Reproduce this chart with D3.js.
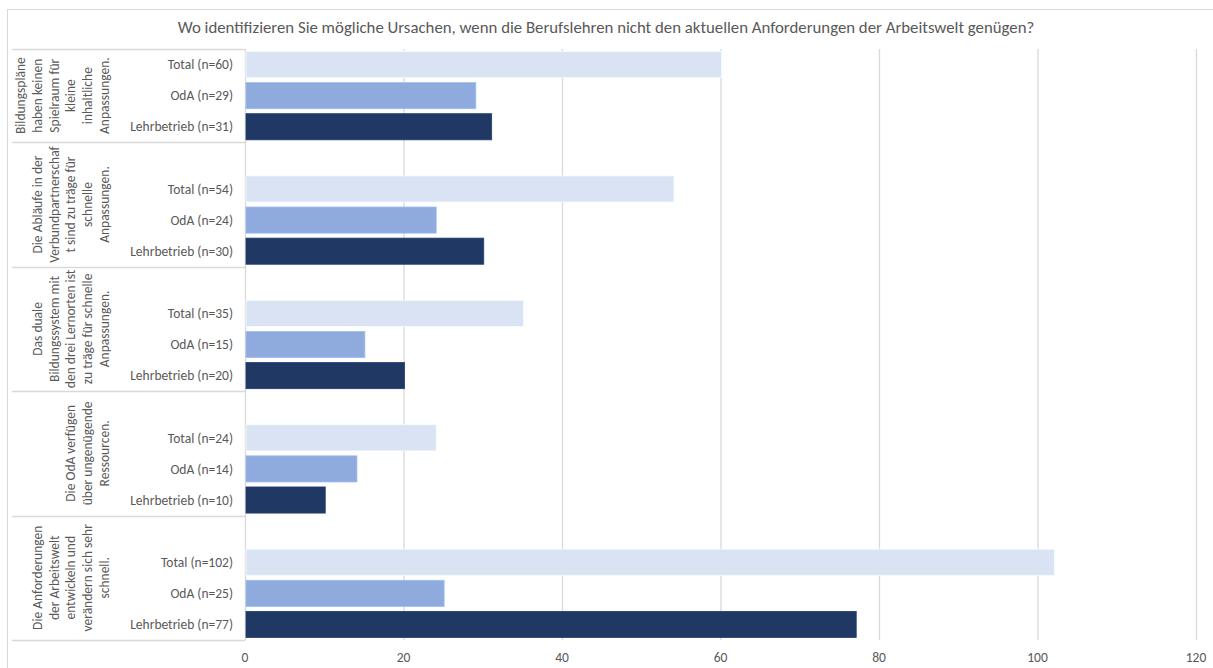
<!DOCTYPE html>
<html>
<head>
<meta charset="utf-8">
<script src="https://cdn.jsdelivr.net/npm/d3@7"></script>
<style>
  body { margin: 0; background: #fff; }
  text { font-family: Carlito, Calibri, Lato, sans-serif; fill: #595959; }
</style>
</head>
<body>
<svg id="chart" width="1213" height="668"></svg>
<script>
// data
var groupLabels = [
    ["Bildungspläne", "haben keinen", "Spielraum für", "kleine", "inhaltliche", "Anpassungen."],
    ["Die Abläufe in der", "Verbundpartnerschaf", "t sind zu träge für", "schnelle", "Anpassungen."],
    ["Das duale", "Bildungssystem mit", "den drei Lernorten ist", "zu träge für schnelle", "Anpassungen."],
    ["Die OdA verfügen", "über ungenügende", "Ressourcen."],
    ["Die Anforderungen", "der Arbeitswelt", "entwickeln und", "verändern sich sehr", "schnell."]
];
var seriesNames = ["Total", "OdA", "Lehrbetrieb"];
var totalValues = [60, 54, 35, 24, 102];
var odaValues = [29, 24, 15, 14, 25];
var lehrbetriebValues = [31, 30, 20, 10, 77];
var xTicks = [0, 20, 40, 60, 80, 100, 120];
var colors = ["#DAE3F3", "#8FAADC", "#203864"];
var title = "Wo identifizieren Sie mögliche Ursachen, wenn die Berufslehren nicht den aktuellen Anforderungen der Arbeitswelt genügen?";

var svg = d3.select("#chart"),
    plotLeft = 245, plotRight = 1196, plotTop = 49, plotBottom = 640;

// rows, with an empty slot in front of every group but the first
var rows = [], slots = [];
groupLabels.forEach(function (g, i) {
    var vals = [totalValues[i], odaValues[i], lehrbetriebValues[i]];
    if (i > 0) slots.push("blank" + i);
    seriesNames.forEach(function (s, j) {
        var key = "g" + i + "-" + j;
        slots.push(key);
        rows.push({key: key, group: i, series: j, value: vals[j], label: s + " (n=" + vals[j] + ")"});
    });
});

var x = d3.scaleLinear().domain([0, 120]).range([plotLeft, plotRight]);
var y = d3.scaleBand().domain(slots).range([plotTop, plotBottom]).padding(0);
var barH = y.bandwidth() * 0.84;

// outer frame
svg.append("rect")
    .attr("x", 7.5).attr("y", 9.5)
    .attr("width", 1230).attr("height", 700)
    .attr("fill", "none").attr("stroke", "#D9D9D9");

svg.append("text")
    .attr("x", 606).attr("y", 33)
    .attr("text-anchor", "middle")
    .style("font-size", "16.8px")
    .text(title);

// gridlines
svg.append("g").selectAll("line")
    .data(xTicks)
    .join("line")
    .attr("x1", d => x(d) + 0.5).attr("x2", d => x(d) + 0.5)
    .attr("y1", plotTop).attr("y2", plotBottom)
    .attr("stroke", "#D9D9D9").attr("stroke-width", 1.3);

svg.append("g").selectAll("text")
    .data(xTicks)
    .join("text")
    .attr("x", d => x(d)).attr("y", 662)
    .attr("text-anchor", "middle")
    .style("font-size", "13.5px")
    .text(d => d);

// bars
svg.append("g").selectAll("rect")
    .data(rows)
    .join("rect")
    .attr("x", x(0) + 1)
    .attr("y", d => y(d.key) + (y.bandwidth() - barH) / 2)
    .attr("width", d => x(d.value) - x(0))
    .attr("height", barH)
    .attr("fill", d => colors[d.series])
    .attr("stroke", d => d3.color(colors[d.series]).brighter(0.3))
    .attr("stroke-width", 0.8);

// category labels
svg.append("g").selectAll("text")
    .data(rows)
    .join("text")
    .attr("x", 233)
    .attr("y", d => y(d.key) + y.bandwidth() / 2)
    .attr("dy", "0.35em")
    .attr("text-anchor", "end")
    .style("font-size", "13.5px")
    .text(d => d.label);

// group boxes
var bounds = groupLabels.map(function (g, i) {
    return {
        y0: i === 0 ? plotTop : y("blank" + i),
        y1: y("g" + i + "-2") + y.bandwidth(),
        lines: g
    };
});
var edges = [plotTop].concat(bounds.map(b => b.y1));

svg.append("g").selectAll("line")
    .data(edges)
    .join("line")
    .attr("x1", 12).attr("x2", plotLeft)
    .attr("y1", d => Math.round(d) + 0.5).attr("y2", d => Math.round(d) + 0.5)
    .attr("stroke", "#D9D9D9").attr("stroke-width", 1.3);

var lineGap = 16.8;
svg.append("g").selectAll("g")
    .data(bounds)
    .join("g")
    .attr("transform", d => "translate(109," + ((d.y0 + d.y1) / 2) + ") rotate(-90)")
    .each(function (d) {
        var n = d.lines.length;
        d3.select(this).selectAll("text")
            .data(d.lines)
            .join("text")
            .attr("x", 0)
            .attr("y", (l, k) => -(n - 1 - k) * lineGap)
            .attr("text-anchor", "middle")
            .style("font-size", "13.5px")
            .text(l => l);
    });
</script>
</body>
</html>
